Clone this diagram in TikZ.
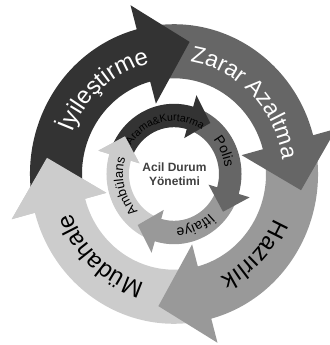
\documentclass[tikz,border=0pt]{standalone}
\usepackage{fontspec}
\setmainfont{Liberation Sans}
\usetikzlibrary{decorations.text}
\definecolor{cDark}{HTML}{333333}
\definecolor{cMid}{HTML}{666666}
\definecolor{cLight}{HTML}{999999}
\definecolor{cPale}{HTML}{CCCCCC}
\definecolor{cInk}{HTML}{404040}
% ring arrows: colour, tail angle, back angle of the head
\newcommand{\outerarrow}[3]{%
  \fill[#1] (#2:92) arc[start angle=#2, end angle=#3, radius=92]
    -- (#3:70) -- ({#3-22}:128) -- (#3:168) -- (#3:144)
    arc[start angle=#3, end angle=#2, radius=144] -- cycle;}
\newcommand{\outerhead}[2]{%
  \fill[#1] (#2:70) -- ({#2-22}:128) -- (#2:168) -- cycle;}
\newcommand{\innerarrow}[3]{%
  \fill[#1] (#2:45) arc[start angle=#2, end angle=#3, radius=45]
    -- (#3:36) -- ({#3-20}:61) -- (#3:79) -- (#3:67.5)
    arc[start angle=#3, end angle=#2, radius=67.5] -- cycle;}
\newcommand{\innerhead}[2]{%
  \fill[#1] (#2:36) -- ({#2-20}:61) -- (#2:79) -- cycle;}
\tikzset{
  arclabel/.style={decorate, decoration={text along path, text align=center,
    text={#1}}},
}

\begin{document}
\begin{tikzpicture}[x=1pt, y=1.04pt]
\useasboundingbox (-174,-164.42) rectangle (155,167.31);
% outer ring
\outerarrow{cPale}{-80}{-165}
\outerarrow{cLight}{10}{-75}
\outerarrow{cMid}{100}{15}
\outerarrow{cDark}{190}{105}
\outerhead{cPale}{-165}
% inner ring
\innerarrow{cPale}{249.5}{163.5}
\innerarrow{cLight}{-20.5}{-106.5}
\innerarrow{cMid}{69.5}{-16.5}
\innerarrow{cDark}{159.5}{73.5}
\innerhead{cPale}{163.5}
% outer labels
\path[arclabel={|\fontsize{24}{24}\selectfont\color{white}|İyileştirme}]
  (210:109) arc[start angle=210, end angle=50, radius=109];
\path[arclabel={|\fontsize{23}{23}\selectfont\color{white}|Zarar Azaltma}]
  (125:109) arc[start angle=125, end angle=-35, radius=109];
\path[arclabel={|\fontsize{24}{24}\selectfont\color{black}|Hazırlık}]
  (35:109) arc[start angle=35, end angle=-125, radius=109];
\path[arclabel={|\fontsize{24}{24}\selectfont\color{black}|Müdahale}]
  (-52:109) arc[start angle=-52, end angle=-212, radius=109];
% inner labels
\path[arclabel={|\fontsize{10.5}{10.5}\selectfont\color{black}|Arama{\&}Kurtarma}]
  (182:51) arc[start angle=182, end angle=22, radius=51];
\path[arclabel={|\fontsize{14}{14}\selectfont\color{black}|Polis}]
  (104:51) arc[start angle=104, end angle=-56, radius=51];
\path[arclabel={|\fontsize{14}{14}\selectfont\color{black}|İtfaiye}]
  (12:52) arc[start angle=12, end angle=-148, radius=52];
\path[arclabel={|\fontsize{13}{13}\selectfont\color{black}|Ambülans}]
  (-86:51) arc[start angle=-86, end angle=-246, radius=51];
% centre
\node[font=\bfseries\fontsize{12}{13.5}\selectfont, text=cInk, align=center]
  (centre) at (0.5,0) {Acil Durum\\Yönetimi};
\end{tikzpicture}
\end{document}
